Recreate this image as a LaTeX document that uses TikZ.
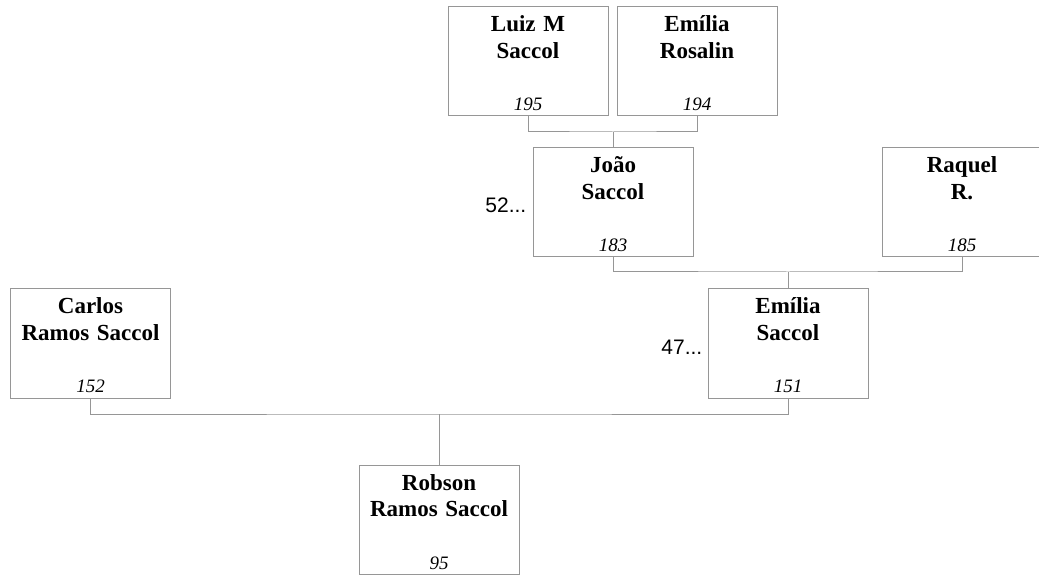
\documentclass[tikz,border=0pt]{standalone}
\usepackage{fontspec}
\setmainfont[WordSpace=0.75]{Liberation Serif}
\newfontfamily\labelsans{Liberation Sans}
\definecolor{boxgray}{RGB}{150,150,150}
\tikzset{
  person/.style={draw=boxgray, line width=1pt, rectangle, minimum width=160pt, minimum height=109pt, inner sep=0pt},
  pname/.style={anchor=north, inner sep=0pt, text width=160pt, align=center, font=\fontsize{23}{26.5}\selectfont\bfseries},
  pnum/.style={anchor=base, inner sep=0pt, font=\fontsize{19}{22}\selectfont\itshape},
  more/.style={anchor=base east, inner sep=0pt, font=\labelsans\fontsize{21}{24}\selectfont},
  conn/.style={draw=boxgray, line width=1pt}
}
\newcommand{\person}[4]{%
  \node[person] (#1) at (#2) {};
  \node[pname, yshift=-5pt] (#1-name) at (#1.north) {\rule{0pt}{20pt}#3};
  \node[pnum, yshift=6pt] (#1-num) at (#1.south) {#4};
}
\begin{document}
\begin{tikzpicture}[x=1pt,y=-1pt]
\useasboundingbox (0,0) rectangle (1039,577);
\person{luiz}{528,61.5}{Luiz M\\Saccol}{195}
\person{emr}{697,61.5}{Emília\\Rosalin}{194}
\person{joao}{613,202.5}{João\\Saccol}{183}
\person{raquel}{962,202.5}{Raquel\\R.}{185}
\person{carlos}{90.5,343.5}{Carlos\\Ramos Saccol}{152}
\person{emsac}{788,343.5}{Emília\\Saccol}{151}
\person{robson}{439,520}{Robson\\Ramos Saccol}{95}
\node[more, xshift=-6pt, yshift=-10pt] (joao-more) at (joao.west) {52...};
\node[more, xshift=-5pt, yshift=-11pt] (emsac-more) at (emsac.west) {47...};
\coordinate (j1) at (613,132);
\coordinate (j2) at (788,272);
\coordinate (j3) at (439,414);
\draw[conn] (luiz.south) |- (j1) -| (emr.south);
\draw[conn] (j1) -- (joao.north);
\draw[conn] (joao.south) |- (j2) -| (raquel.south);
\draw[conn] (j2) -- (emsac.north);
\draw[conn] (carlos.south) |- (j3) -| (emsac.south);
\draw[conn] (j3) -- (robson.north);
\end{tikzpicture}
\end{document}
